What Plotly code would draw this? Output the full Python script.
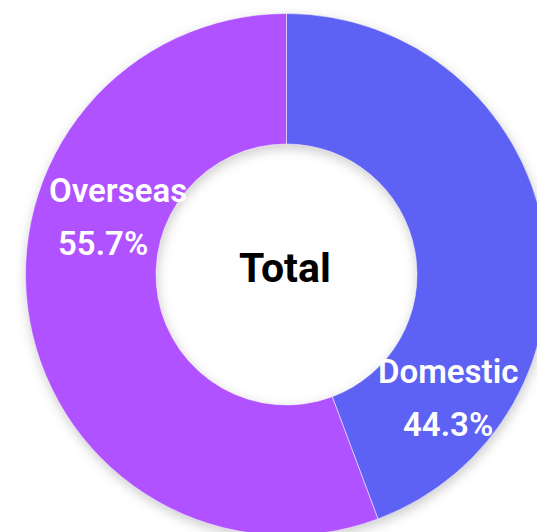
import plotly.graph_objects as go

# Share of total by market
categories = ["Domestic", "Overseas"]
shares = [44.3, 55.7]
center_title = "Total"

colors = ["#5e62f4", "#b052ff"]

W, H = 560, 560
CX, CY, R = 286.5, 274.5, 261  # donut centre and outer radius, in pixels


def px(x, y):
    """Pixel position (from top-left) to paper coordinates."""
    return x / W, 1 - y / H


fig = go.Figure(
    go.Pie(
        labels=categories,
        values=shares,
        hole=0.5,
        sort=False,
        direction="clockwise",
        rotation=0,
        marker=dict(colors=colors, line=dict(color="rgba(255,255,255,0.5)", width=1)),
        textinfo="none",
        hoverinfo="label+percent",
        showlegend=False,
        domain=dict(
            x=[(CX - R) / W, (CX + R) / W],
            y=[(H - CY - R) / H, (H - CY + R) / H],
        ),
    )
)

label_font = dict(family="Roboto, Arial, sans-serif", size=33, color="white", weight=600)

# slice labels: name above, percentage below
label_spots = {
    "Domestic": ((447.5, 371.5), (447.5, 424.5)),
    "Overseas": ((118, 190), (103, 243.5)),
}
annotations = []
for name, value in zip(categories, shares):
    (nx, ny), (vx, vy) = label_spots[name]
    x0, y0 = px(nx, ny)
    x1, y1 = px(vx, vy)
    annotations.append(dict(text=name, x=x0, y=y0, xref="paper", yref="paper",
                            xanchor="center", yanchor="middle", showarrow=False, font=label_font))
    annotations.append(dict(text=f"{value:.1f}%", x=x1, y=y1, xref="paper", yref="paper",
                            xanchor="center", yanchor="middle", showarrow=False, font=label_font))

tx, ty = px(285, 268)
annotations.append(dict(text=center_title, x=tx, y=ty, xref="paper", yref="paper",
                        xanchor="center", yanchor="middle", showarrow=False,
                        font=dict(family="Roboto, Arial, sans-serif", size=41, color="#000000", weight=700)))

fig.update_layout(
    width=W,
    height=H,
    margin=dict(l=0, r=0, t=0, b=0, pad=0),
    paper_bgcolor="white",
    plot_bgcolor="white",
    annotations=annotations,
)

# soft drop shadow under the ring; keep the page clipped to the window
post = """
document.documentElement.style.overflow = 'hidden';
document.body.style.overflow = 'hidden';
document.body.style.margin = '0';
var layers = document.querySelectorAll('.pielayer');
layers.forEach(function (g) {
  g.style.filter = 'drop-shadow(1px 4px 6px rgba(0,0,0,0.2))';
});
"""

fig.write_html("out.html", config={"displayModeBar": False}, post_script=post)
